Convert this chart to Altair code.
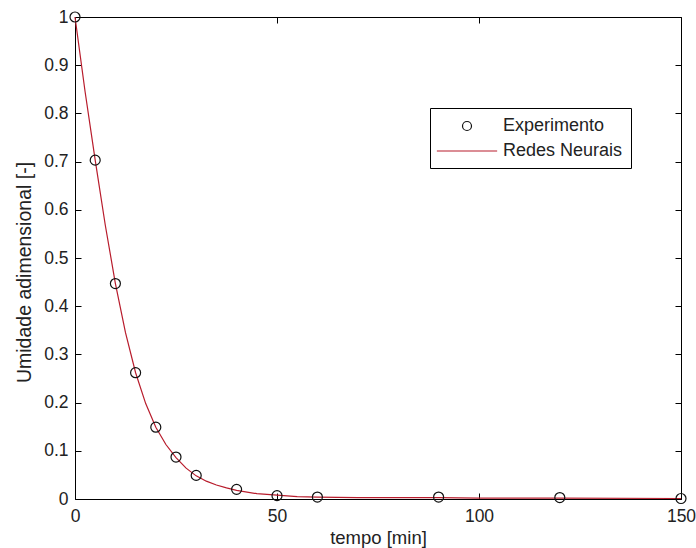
import altair as alt
import pandas as pd

# ---- data ----
exp_t = [0, 5, 10, 15, 20, 25, 30, 40, 50, 60, 90, 120, 150]
exp_u = [1.000, 0.703, 0.447, 0.262, 0.149, 0.087, 0.049, 0.020, 0.007, 0.004, 0.004, 0.003, 0.001]

net_t = [0, 2.5, 5, 7.5, 10, 12.5, 15, 17.5, 20, 22.5, 25, 27.5, 30, 32.5, 35, 37.5,
         40, 45, 50, 55, 60, 70, 80, 90, 100, 120, 150]
net_u = [1.000, 0.845, 0.703, 0.568, 0.447, 0.345, 0.262, 0.198, 0.149, 0.113, 0.086,
         0.064, 0.048, 0.037, 0.029, 0.023, 0.018, 0.011, 0.008, 0.005, 0.004, 0.003,
         0.003, 0.003, 0.002, 0.002, 0.001]

series_names = ["Experimento", "Redes Neurais"]
series_colors = ["#111111", "#b81c2c"]

x_ticks = [0, 50, 100, 150]
y_ticks = [0, 0.1, 0.2, 0.3, 0.4, 0.5, 0.6, 0.7, 0.8, 0.9, 1]

x_title = "tempo [min]"
y_title = "Umidade adimensional [-]"

W, H = 606, 482
FONT = "Liberation Sans"

exp_df = pd.DataFrame({"t": exp_t, "u": exp_u, "serie": series_names[0]})
net_df = pd.DataFrame({"t": net_t, "u": net_u})

xs = alt.Scale(domain=[0, 150], nice=False, zero=False)
ys = alt.Scale(domain=[0, 1], nice=False, zero=False)

circle_path = "M-0.5,0A0.5,0.5 0 1,0 0.5,0A0.5,0.5 0 1,0 -0.5,0Z"
line_path = "M-3.35,0H3.35"

# inward-pointing tick axes (labels kept but fully transparent)
tick_axis = dict(labels=True, labelOpacity=0, ticks=True, tickSize=6, tickColor="black",
                 tickWidth=1, grid=False, title=None)

# layer 1: network line with main labelled axes
line = alt.Chart(net_df).mark_line(color=series_colors[1], strokeWidth=1.2).encode(
    x=alt.X("t:Q", scale=xs, axis=alt.Axis(
        orient="bottom", values=x_ticks, format="d", ticks=False, domain=True,
        domainColor="black", grid=False, labelFlush=False, labelPadding=8,
        labelFont=FONT, labelFontSize=17.5, labelColor="#222",
        title=x_title, titleFont=FONT, titleFontSize=18.5, titleFontWeight="normal",
        titleColor="#222", titleY=44, titleBaseline="alphabetic")),
    y=alt.Y("u:Q", scale=ys, axis=alt.Axis(
        orient="left", values=y_ticks, format="~g", ticks=False, domain=True,
        domainColor="black", grid=False, labelFlush=False, labelPadding=7,
        labelFont=FONT, labelFontSize=17.5, labelColor="#222",
        title=y_title, titleFont=FONT, titleFontSize=19.5, titleFontWeight="normal",
        titleColor="#222", titleX=-45, titleY=255, titleAngle=270,
        titleAlign="center", titleBaseline="alphabetic")),
)

# layer 2: experimental points, carrying the legend, ticks at bottom/left edges
points = alt.Chart(exp_df).mark_point(filled=False, size=400, strokeWidth=1.2, opacity=1).encode(
    x=alt.X("t:Q", scale=xs, axis=alt.Axis(orient="top", offset=-H, values=x_ticks,
                                           domain=False, **tick_axis)),
    y=alt.Y("u:Q", scale=ys, axis=alt.Axis(orient="right", offset=-W, values=y_ticks,
                                           domain=False, **tick_axis)),
    color=alt.Color("serie:N", scale=alt.Scale(domain=series_names, range=series_colors),
                    title=None,
                    legend=alt.Legend(orient="none", legendX=355, legendY=91)),
    shape=alt.Shape("serie:N", scale=alt.Scale(domain=series_names,
                                               range=[circle_path, line_path]),
                    title=None,
                    legend=alt.Legend(orient="none", legendX=355, legendY=91)),
)

# layer 3: invisible copy of the line, carrying the ticks/box at top/right edges
ghost = alt.Chart(net_df).mark_line(color=series_colors[1], strokeOpacity=0).encode(
    x=alt.X("t:Q", scale=xs, axis=alt.Axis(orient="bottom", offset=-H, values=x_ticks,
                                           domain=True, domainColor="black", **tick_axis)),
    y=alt.Y("u:Q", scale=ys, axis=alt.Axis(orient="left", offset=-W, values=y_ticks,
                                           domain=True, domainColor="black", **tick_axis)),
)

chart = alt.layer(line, points, ghost).resolve_axis(
    x="independent", y="independent"
).properties(
    width=W, height=H, autosize="none",
    padding={"left": 75, "top": 17, "right": 15, "bottom": 49},
    background="white",
).configure_view(stroke=None).configure_legend(
    padding=8, strokeColor="black", fillColor="white", cornerRadius=0,
    labelFont=FONT, labelFontSize=18, labelColor="#222", labelOffset=26,
    symbolSize=324, symbolStrokeWidth=1.2, symbolOffset=19, rowPadding=6,
    symbolFillColor="transparent", labelLimit=300,
)

chart.save("out.html", embed_options={"renderer": "svg", "actions": False})
